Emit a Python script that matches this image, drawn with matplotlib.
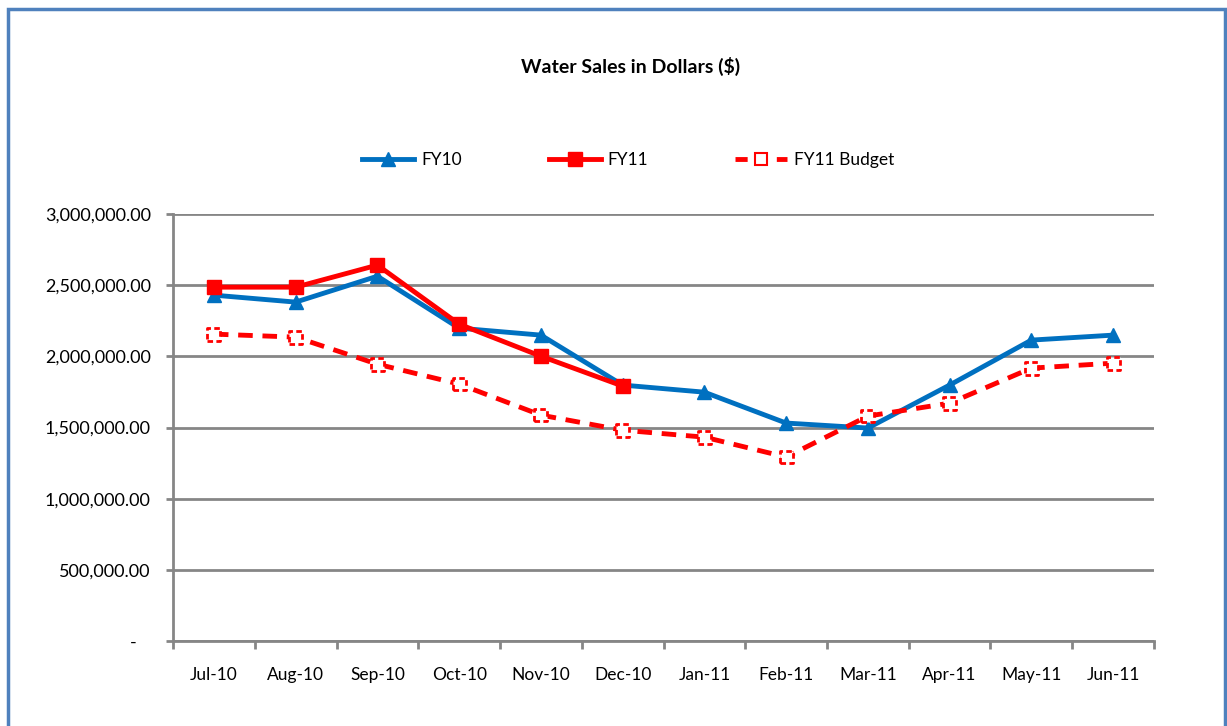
import matplotlib
matplotlib.use("Agg")
from matplotlib import pyplot as plt
from matplotlib.patches import Rectangle
from matplotlib.lines import Line2D
from matplotlib.ticker import FuncFormatter

months = ["Jul-10", "Aug-10", "Sep-10", "Oct-10", "Nov-10", "Dec-10",
          "Jan-11", "Feb-11", "Mar-11", "Apr-11", "May-11", "Jun-11"]
fy10 = [2431000, 2382000, 2564000, 2199000, 2150000, 1799000,
        1749000, 1532000, 1497000, 1799000, 2115000, 2150000]
fy11 = [2487000, 2487000, 2642000, 2227000, 2002000, 1792000]
budget = [2157000, 2136000, 1946000, 1806000, 1588000, 1482000,
          1433000, 1293000, 1581000, 1672000, 1918000, 1953000]

plt.rcParams['font.family'] = ['Lato', 'DejaVu Sans']


def money(v, pos):
    if v == 0:
        return "-   "
    return "{:,.2f}".format(v)


fig = plt.figure(figsize=[12.27, 7.26], dpi=100)
ax = fig.add_axes([0.141, 0.117, 0.7995, 0.588])

x = list(range(len(months)))
l10, = ax.plot(x, fy10, color="#0070C0", lw=3.5, marker="^", ms=10)
l11, = ax.plot(x[:len(fy11)], fy11, color="#FF0000", lw=3.5, marker="s", ms=10)
ax.plot(x, budget, color="#FF0000", lw=3.5, ls=(0, (3, 2)))
ax.scatter(x, budget, s=85, marker="s", facecolor="white", edgecolor="#FF0000",
           linewidths=2, linestyle=(0, (2, 1.2)), zorder=3)
# legend proxy: dash - marker - dash
lb = Line2D([], [], color="#FF0000", lw=3.5, ls=(0, (2.5, 6.0)),
            marker="s", ms=8, mfc="white", mec="#FF0000", mew=1.5)

ax.set_xlim(-0.5, len(months) - 0.5)
ax.set_ylim(0, 3000000)
ax.set_yticks(range(0, 3000001, 500000))
ax.yaxis.set_major_formatter(FuncFormatter(money))
ax.set_xticks(x)
ax.set_xticklabels(months)
ax.set_xticks([i - 0.5 for i in range(len(months) + 1)], minor=True)
ax.tick_params(axis="x", which="major", length=0, pad=19, labelsize=12.5)
ax.tick_params(axis="x", which="minor", length=6, width=2, color="#868686")
ax.tick_params(axis="y", length=5, width=2, color="#868686", labelsize=13, pad=11)
ax.grid(axis="y", color="#868686", lw=2)
ax.set_axisbelow(True)
for s in ["top", "right"]:
    ax.spines[s].set_visible(False)
for s in ["left", "bottom"]:
    ax.spines[s].set_color("#868686")
    ax.spines[s].set_linewidth(2)

fig.text(0.514, 0.909, "Water Sales in Dollars ($)", ha="center", va="center",
         fontsize=14, fontweight="bold")
fig.legend([l10, l11, lb], ["FY10", "FY11", "FY11 Budget"],
           loc="center", bbox_to_anchor=(0.512, 0.779), ncol=3, frameon=False,
           fontsize=12.5, handlelength=3.0, columnspacing=5.0, handletextpad=0.4)

fig.patches.append(Rectangle((0.0065, -0.02), 0.9915, 1.008, transform=fig.transFigure,
                             fill=False, edgecolor="#4F81BD", lw=2.5))

fig.savefig("out.png", dpi=100)
